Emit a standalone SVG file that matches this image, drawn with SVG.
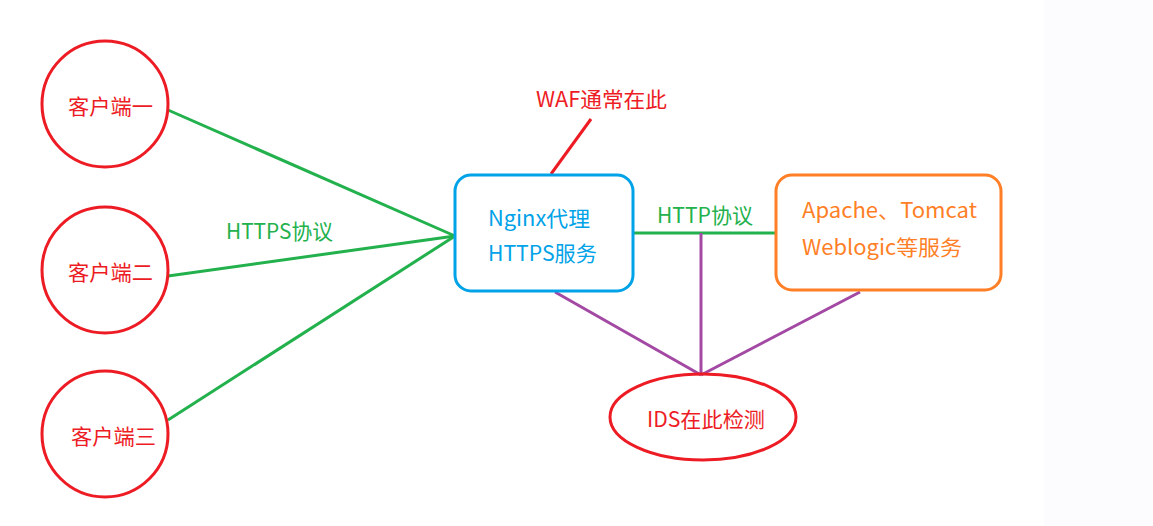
<svg xmlns="http://www.w3.org/2000/svg" width="1153" height="526" viewBox="0 0 1153 526">
<style>
text{font-family:"Noto Sans CJK SC","Microsoft YaHei",sans-serif;font-size:21px;dominant-baseline:central}
.red{fill:none;stroke:#ed1c24;stroke-width:3}
.g{stroke:#22b14c;stroke-width:3;fill:none}
.p{stroke:#a349a4;stroke-width:3;fill:none}
.tr{fill:#ed1c24}
.tg{fill:#22b14c}
</style>
<rect x="0" y="0" width="1153" height="526" fill="#ffffff"/>
<rect x="1044" y="0" width="109" height="526" fill="#fcfcfe"/>
<g id="connectors">
<line class="g" x1="168" y1="110" x2="455" y2="236"/>
<line class="g" x1="168" y1="276" x2="455" y2="236"/>
<line class="g" x1="168" y1="420" x2="455" y2="236"/>
<line class="g" x1="633" y1="233" x2="775" y2="233"/>
<line class="p" x1="701" y1="233" x2="701" y2="375"/>
<line class="p" x1="555" y1="292" x2="701" y2="375"/>
<line class="p" x1="860" y1="292" x2="701" y2="375"/>
<line x1="551" y1="174" x2="591" y2="119" stroke="#ed1c24" stroke-width="3"/>
<text x="226" y="230" class="tg" textLength="107" lengthAdjust="spacingAndGlyphs">HTTPS协议</text>
<text x="657" y="214" class="tg" textLength="96" lengthAdjust="spacingAndGlyphs">HTTP协议</text>
</g>
<g id="client1">
<circle class="red" cx="105" cy="104" r="63"/>
<text x="68" y="105" class="tr" textLength="85" lengthAdjust="spacingAndGlyphs">客户端一</text>
</g>
<g id="client2">
<circle class="red" cx="105" cy="270" r="63"/>
<text x="68" y="271" class="tr" textLength="85" lengthAdjust="spacingAndGlyphs">客户端二</text>
</g>
<g id="client3">
<circle class="red" cx="105" cy="434" r="63"/>
<text x="71" y="435" class="tr" textLength="85" lengthAdjust="spacingAndGlyphs">客户端三</text>
</g>
<g id="waf">
<text x="536" y="98" class="tr" textLength="131" lengthAdjust="spacingAndGlyphs">WAF通常在此</text>
</g>
<g id="nginx">
<rect x="455" y="175" width="178" height="116" rx="16" fill="#ffffff" stroke="#00a2e8" stroke-width="3"/>
<text x="488" y="217" fill="#00a2e8" textLength="102" lengthAdjust="spacingAndGlyphs">Nginx代理</text>
<text x="488" y="252" fill="#00a2e8" textLength="109" lengthAdjust="spacingAndGlyphs">HTTPS服务</text>
</g>
<g id="apache">
<rect x="776" y="175" width="225" height="115" rx="16" fill="#ffffff" stroke="#ff7f27" stroke-width="3"/>
<text x="802" y="209" fill="#ff7f27" textLength="175" lengthAdjust="spacingAndGlyphs">Apache、Tomcat</text>
<text x="802" y="246" fill="#ff7f27" textLength="160" lengthAdjust="spacingAndGlyphs">Weblogic等服务</text>
</g>
<g id="ids">
<ellipse class="red" cx="703" cy="417" rx="93" ry="43" fill="#ffffff"/>
<text x="647" y="418" class="tr" textLength="118" lengthAdjust="spacingAndGlyphs">IDS在此检测</text>
</g>
</svg>
